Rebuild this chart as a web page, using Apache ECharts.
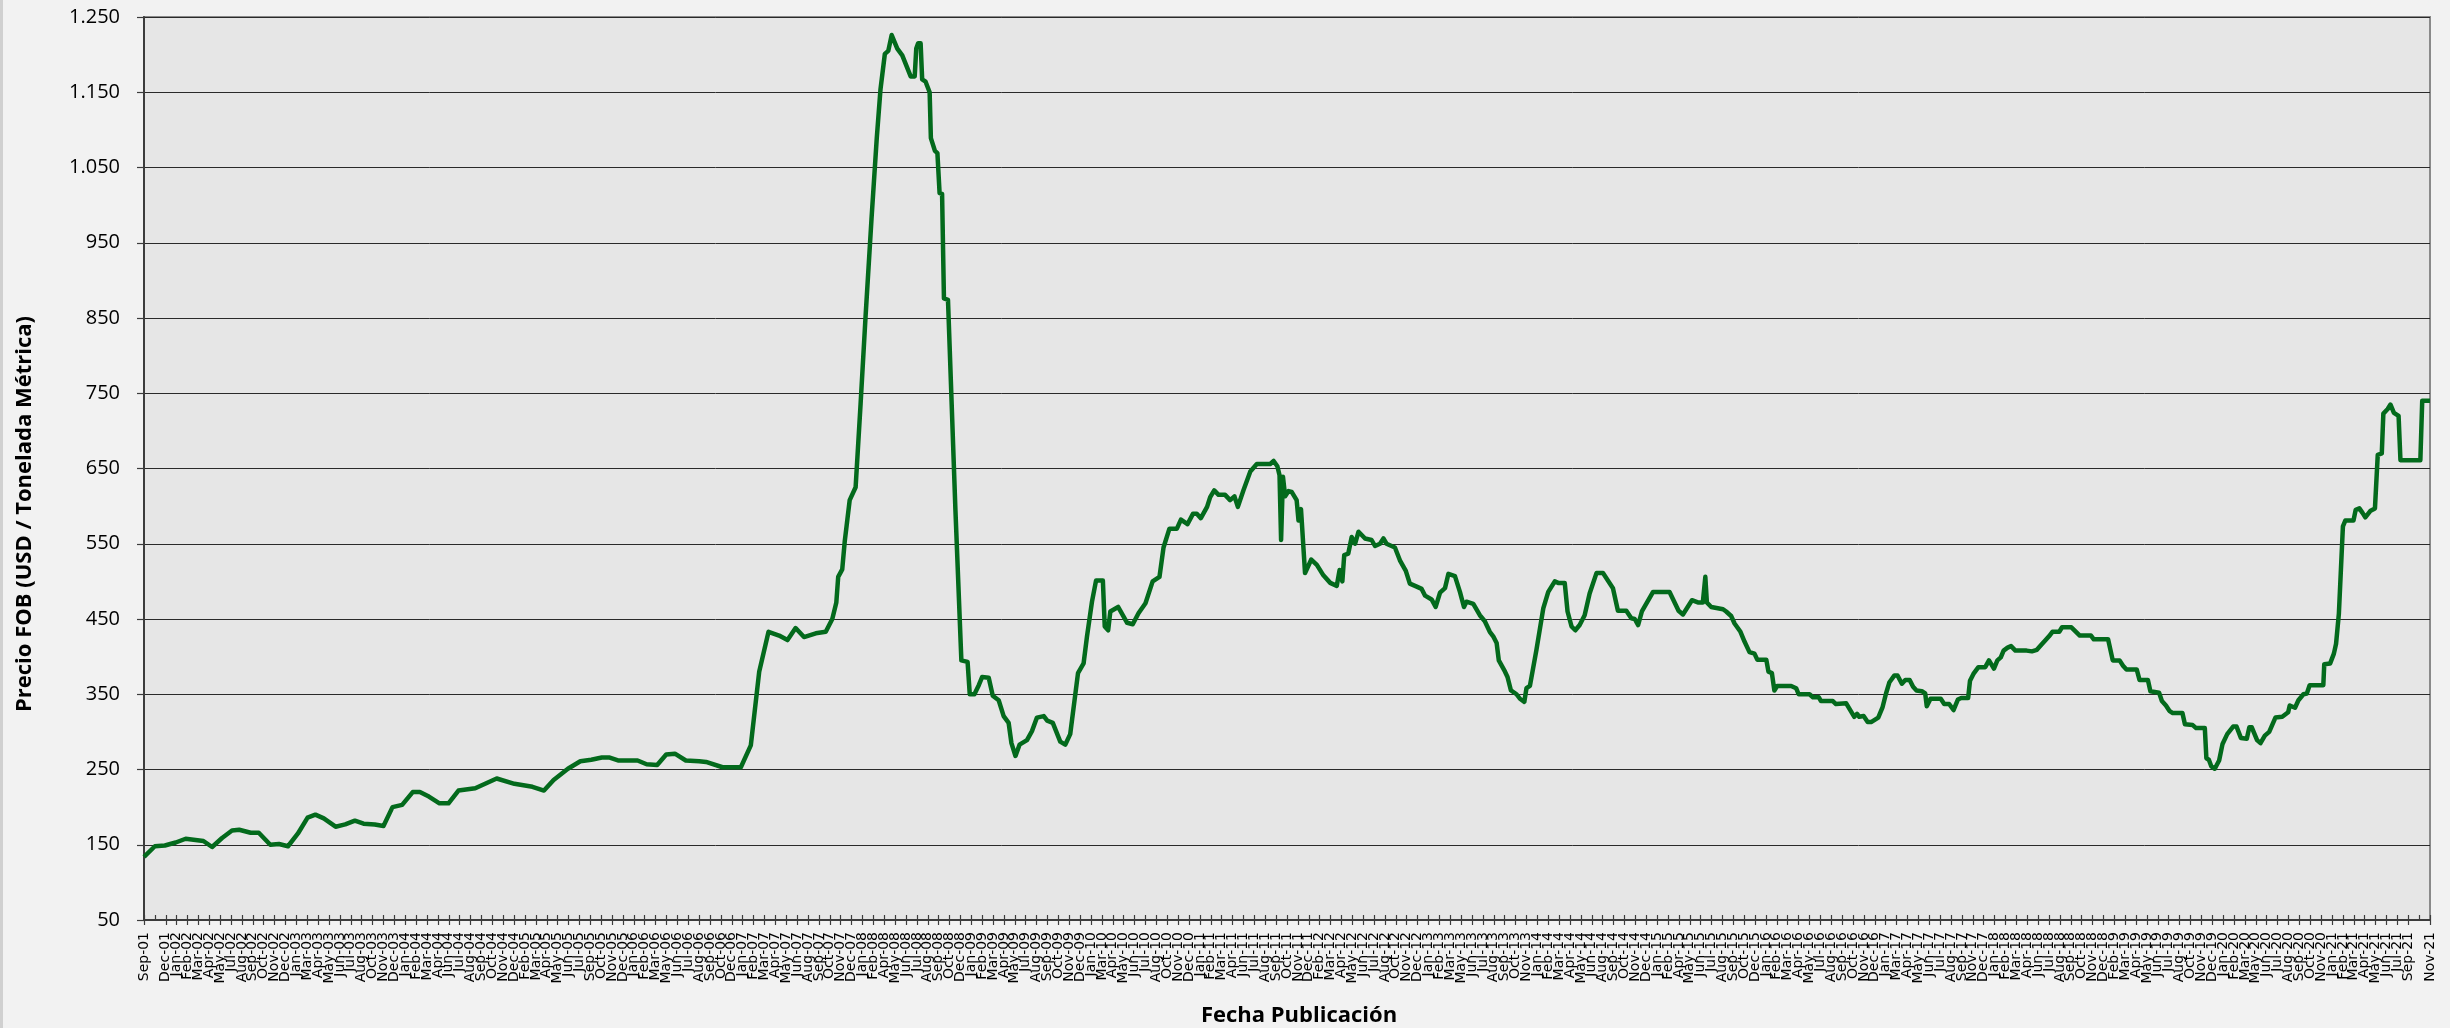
<!DOCTYPE html>
<html>
<head>
<meta charset="utf-8">
<script src="https://cdn.jsdelivr.net/npm/echarts@6/dist/echarts.min.js"></script>
<style>
  html, body { margin: 0; padding: 0; background: #f2f2f2; }
  #chart { width: 2450px; height: 1028px; }
  .edge { position: absolute; left: 0; top: 0; width: 3px; height: 1028px; background: #d0d0d0; }
</style>
</head>
<body>
<div id="chart"></div>
<div class="edge"></div>
<script>
// fecha de la primera marca del eje (28-sep-2001) y paso entre marcas en días
const ORIGEN = Date.UTC(2001, 8, 28)
const PASO_DIAS = 35
const TOTAL_DIAS = 7350
const MESES = ['Jan', 'Feb', 'Mar', 'Apr', 'May', 'Jun', 'Jul', 'Aug', 'Sep', 'Oct', 'Nov', 'Dec']

// días desde el origen
const dias = [
  0, 35, 67, 102, 134, 191, 219, 251, 283, 306, 343, 369, 406, 434, 463, 495, 526, 551, 578, 616,
  647, 678, 706, 742, 770, 799, 830, 864, 887, 916, 950, 979, 1011, 1065, 1134, 1191, 1249, 1286, 1317, 1363,
  1403, 1438, 1472, 1495, 1524, 1587, 1616, 1650, 1679, 1707, 1742, 1785,
  1807, 1860, 1919, 1951, 1978, 2008, 2042, 2069, 2095, 2122, 2160, 2192, 2213, 2226, 2232, 2245, 2253, 2269,
  2288, 2304, 2320, 2339, 2356, 2368, 2382, 2393, 2404, 2422, 2438, 2465, 2478, 2483, 2489, 2497, 2502, 2513,
  2526, 2530, 2543, 2551, 2558, 2566, 2572, 2585, 2609, 2628, 2648, 2655, 2670, 2684, 2695, 2716, 2729, 2748,
  2764, 2780, 2789, 2802, 2815, 2839, 2855, 2871, 2893, 2904, 2922, 2946, 2962, 2978, 3003, 3021,
  3032, 3048, 3061, 3083, 3089, 3100, 3107, 3132, 3161, 3179, 3198, 3220, 3243, 3265, 3278, 3297, 3321, 3334,
  3355, 3373, 3385, 3398, 3418, 3428, 3441, 3455, 3476, 3492, 3506, 3517, 3535, 3557, 3578, 3621, 3632, 3644,
  3651, 3656, 3662, 3669, 3680, 3690, 3706, 3712, 3720, 3733, 3753, 3771, 3792, 3814, 3835, 3844, 3853, 3859,
  3872, 3883, 3894, 3905, 3926, 3947, 3958, 3974, 3985, 3995, 4022, 4038, 4057, 4070, 4092, 4108, 4119, 4140,
  4153, 4167, 4183, 4194, 4215, 4231, 4244, 4252, 4274, 4295, 4311,
  4327, 4338, 4349, 4356, 4376, 4384, 4395, 4413, 4424, 4438, 4445, 4456, 4477, 4499, 4515, 4536, 4547, 4568,
  4577, 4590, 4602, 4616, 4632, 4648, 4670, 4691, 4723, 4739, 4766, 4782, 4793, 4804, 4816, 4852, 4905, 4934,
  4948, 4977, 4996, 5012, 5020, 5025, 5039, 5077, 5087, 5103, 5114, 5133, 5146, 5162, 5178, 5187, 5216, 5223,
  5234, 5242, 5251, 5296, 5312, 5320, 5355, 5366, 5385, 5392, 5430, 5440, 5473, 5499, 5508, 5515, 5529, 5542,
  5553, 5576, 5590, 5601, 5612, 5628, 5638,
  5652, 5663, 5677, 5688, 5699, 5716, 5727, 5732, 5744, 5777, 5788, 5804, 5818, 5832, 5843, 5865, 5871, 5882,
  5898, 5920, 5932, 5948, 5959, 5970, 5979, 5992, 6003, 6017, 6053, 6070, 6086, 6101, 6112, 6125, 6136, 6158,
  6167, 6197, 6224, 6260, 6269, 6315, 6330, 6352, 6363, 6374, 6407, 6416, 6443, 6451, 6479, 6488, 6501, 6512,
  6523, 6554, 6562, 6587, 6598, 6626, 6631, 6639, 6647, 6658, 6672, 6683, 6698, 6717, 6728, 6742, 6761, 6769,
  6777, 6794, 6805, 6819, 6833, 6853, 6875, 6894, 6899, 6916, 6927, 6943, 6954, 6963, 7007, 7010, 7029, 7041,
  7048, 7057, 7070, 7078, 7104, 7111, 7123, 7133, 7142, 7159, 7173, 7182, 7195, 7200, 7214, 7223, 7234, 7249,
  7255, 7319, 7325, 7350
]

// precio FOB (USD / tonelada métrica)
const precios = [
  134, 148, 149, 153, 158, 155, 147, 159, 169, 170, 166, 166, 150, 151, 148, 165, 186, 190, 185, 174,
  177, 182, 178, 177, 175, 200, 203, 220, 220, 214, 205, 205, 222, 225, 238, 231, 227, 222, 236, 251,
  261, 263, 266, 266, 262, 262, 257, 256, 270, 271, 262, 261,
  260, 253, 253, 282, 380, 433, 428, 422, 438, 426, 431, 433, 450, 472, 506, 516, 553, 608,
  625, 736, 852, 981, 1089, 1154, 1201, 1205, 1226, 1208, 1199, 1171, 1171, 1208, 1215, 1215, 1167, 1164,
  1150, 1089, 1072, 1069, 1016, 1015, 876, 874, 594, 395, 393, 350, 350, 362, 373, 372, 348, 342,
  321, 312, 285, 268, 283, 289, 301, 319, 321, 315, 312, 287, 283, 297, 378, 391,
  427, 473, 501, 501, 440, 435, 460, 466, 445, 443, 458, 471, 500, 506, 545, 570, 570, 582,
  576, 590, 590, 584, 599, 612, 621, 615, 615, 608, 613, 599, 621, 646, 656, 656, 660, 653,
  641, 555, 639, 613, 620, 619, 608, 581, 596, 511, 529, 522, 508, 498, 494, 515, 500, 535,
  537, 559, 550, 566, 557, 555, 547, 550, 557, 550, 545, 528, 514, 497, 493, 490, 481, 476,
  466, 485, 491, 510, 507, 486, 466, 473, 470, 455, 447,
  433, 427, 418, 395, 380, 373, 355, 350, 344, 340, 358, 361, 409, 464, 486, 500, 498, 498,
  460, 440, 435, 442, 455, 484, 511, 511, 491, 461, 461, 451, 450, 442, 460, 486, 486, 461,
  456, 475, 472, 472, 506, 472, 466, 463, 460, 454, 444, 433, 420, 406, 404, 396, 396, 380,
  378, 355, 361, 361, 358, 350, 350, 346, 346, 341, 341, 337, 338, 320, 324, 320, 321, 313,
  313, 319, 333, 351, 366, 375, 375,
  364, 369, 369, 360, 355, 354, 351, 334, 344, 344, 337, 337, 329, 343, 345, 345, 368, 377,
  386, 386, 395, 384, 395, 399, 408, 412, 414, 408, 408, 407, 409, 416, 421, 427, 433, 433,
  439, 439, 428, 428, 423, 423, 395, 395, 388, 383, 383, 369, 369, 354, 352, 341, 335, 328,
  325, 325, 310, 309, 305, 305, 265, 263, 254, 251, 262, 284, 297, 307, 307, 292, 291, 306,
  306, 289, 285, 295, 300, 319, 320, 326, 335, 332, 342, 350, 351, 362, 362, 390, 391, 404,
  417, 457, 573, 581, 581, 595, 597, 591, 585, 594, 597, 668, 670, 723, 729, 735, 724, 720,
  661, 661, 740, 740
]

const etiquetaFecha = (valor) => {
  const fecha = new Date(ORIGEN + valor * 86400000)
  const anio = String(fecha.getUTCFullYear() % 100).padStart(2, '0')
  return `${MESES[fecha.getUTCMonth()]}-${anio}`
}

const etiquetaPrecio = (valor) => String(valor).replace(/\B(?=(\d{3})+(?!\d))/g, '.')

const chart = echarts.init(document.getElementById('chart'), null, { renderer: 'canvas' })

const ejeColor = '#3c3c3c'

const option = {
  backgroundColor: '#f2f2f2',
  animation: false,
  grid: {
    left: 144,
    right: 20,
    top: 17,
    bottom: 108,
    show: true,
    backgroundColor: '#e6e6e6',
    borderColor: '#8a8a8a',
    borderWidth: 2,
  },
  xAxis: [
    {
      type: 'value',
      position: 'bottom',
      min: 0,
      max: TOTAL_DIAS,
      interval: PASO_DIAS,
      axisLine: { lineStyle: { color: ejeColor, width: 2 } },
      axisTick: { length: 5, lineStyle: { color: ejeColor, width: 1.2 } },
      axisLabel: {
        rotate: 90,
        margin: 12,
        color: '#000',
        fontFamily: 'DejaVu Sans',
        fontSize: 14,
        showMinLabel: true,
        showMaxLabel: true,
        hideOverlap: false,
        formatter: etiquetaFecha,
      },
      splitLine: { show: false },
    },
    {
      // marcas hacia dentro del área, para el aspecto de cruz
      type: 'value',
      position: 'top',
      offset: -903,
      min: 0,
      max: TOTAL_DIAS,
      interval: PASO_DIAS,
      axisLine: { show: false },
      axisTick: { length: 5, lineStyle: { color: ejeColor, width: 1.2 } },
      axisLabel: { show: false },
      splitLine: { show: false },
    },
  ],
  yAxis: {
    type: 'value',
    min: 50,
    max: 1250,
    interval: 100,
    axisLine: { show: true, lineStyle: { color: ejeColor, width: 2 } },
    axisTick: { show: true, length: 7, lineStyle: { color: ejeColor, width: 1.2 } },
    axisLabel: {
      margin: 24,
      color: '#000',
      fontFamily: 'Open Sans',
      fontSize: 20,
      showMinLabel: true,
      showMaxLabel: true,
      formatter: etiquetaPrecio,
    },
    splitLine: { lineStyle: { color: '#2a2a2a', width: 1 } },
  },
  graphic: [
    {
      type: 'text',
      x: 25,
      y: 514,
      rotation: Math.PI / 2,
      style: {
        text: 'Precio FOB (USD / Tonelada Métrica)',
        font: 'bold 22px "Open Sans"',
        fill: '#000',
        align: 'center',
        verticalAlign: 'middle',
      },
    },
    {
      type: 'text',
      x: 1299,
      y: 1016,
      style: {
        text: 'Fecha Publicación',
        font: 'bold 22px "Open Sans"',
        fill: '#000',
        align: 'center',
        verticalAlign: 'middle',
      },
    },
  ],
  series: [
    {
      type: 'line',
      xAxisIndex: 0,
      data: dias.map((d, i) => [d, precios[i]]),
      showSymbol: false,
      lineStyle: { color: '#036a1c', width: 4.5, join: 'round' },
    },
  ],
}

chart.setOption(option)
</script>
</body>
</html>
